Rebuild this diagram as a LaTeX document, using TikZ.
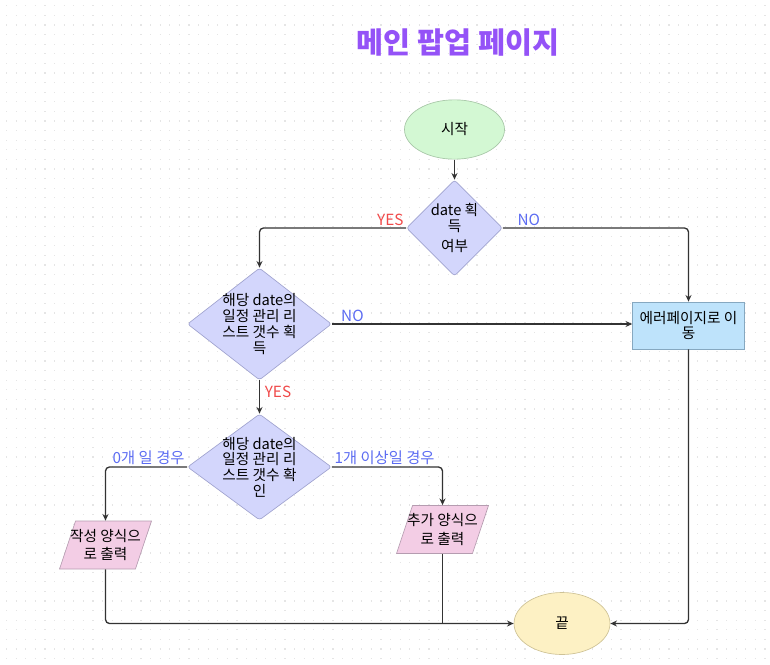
\documentclass[tikz,border=0pt]{standalone}
\usepackage{fontspec}
\setmainfont{Noto Sans CJK KR}
\usetikzlibrary{positioning, calc, shapes.geometric, arrows.meta}

\definecolor{lineCol}{HTML}{333333}
\definecolor{startFill}{HTML}{D3F8D3}
\definecolor{startDraw}{HTML}{A6C6A6}
\definecolor{decFill}{HTML}{D3D6FC}
\definecolor{decDraw}{HTML}{A0A3CF}
\definecolor{errFill}{HTML}{BEE3FB}
\definecolor{errDraw}{HTML}{86A8C0}
\definecolor{outFill}{HTML}{F3CDE5}
\definecolor{outDraw}{HTML}{B59CB0}
\definecolor{endFill}{HTML}{FDF1C4}
\definecolor{endDraw}{HTML}{CEC295}
\definecolor{yesCol}{HTML}{F04A4A}
\definecolor{noCol}{HTML}{5C6CF2}
\definecolor{titleCol}{HTML}{9452F7}

\tikzset{
    Arrow/.style = {
        draw=lineCol,
        line width=1pt,
        rounded corners=3pt,
        -{Stealth[length=5pt, width=4.5pt]}
    },
    Line/.style = {draw=lineCol, line width=1pt, rounded corners=3pt}
}
\tikzset{
Text/.style={
  font=\fontsize{11}{11.8}\selectfont,
  align=center,
  text=black,
  },
Inside/.style={Text, inner sep=0pt},
Terminal/.style={ellipse, draw=#1Draw, fill=#1Fill, line width=0.5pt, Text},
Decision/.style={diamond, draw=decDraw, fill=decFill, line width=0.5pt,
  rounded corners=2pt, inner sep=0pt},
Process/.style={rectangle, draw=errDraw, fill=errFill, line width=0.5pt,
  inner sep=1.5pt, Text},
IO/.style={trapezium, trapezium left angle=75, trapezium right angle=105,
  trapezium stretches=true, draw=outDraw, fill=outFill, line width=0.5pt,
  inner sep=2pt, minimum width=69pt, minimum height=36pt},
Lbl/.style={font=\fontsize{11.5}{13}\selectfont, inner sep=1.5pt},
YesLbl/.style={Lbl, text=yesCol},
NoLbl/.style={Lbl, text=noCol},
GridDots/.style={draw=gray!20, line width=0.9pt, dash pattern=on 0.9pt off 6.3pt},
Title/.style={font=\fontsize{22}{26}\selectfont\bfseries, text=titleCol}
}

\begin{document}
\begin{tikzpicture}[x=0.75pt, y=-0.75pt]
    \useasboundingbox (0,0) rectangle (770,664);
    % dotted background
    \foreach \j in {0,...,68}
        \draw[GridDots] (5.9, 5.7+9.6*\j) -- (770, 5.7+9.6*\j);

    % title
    \node[Title] (title) at (458,43) {메인 팝업 페이지};

    % start
    \node[Terminal=start, minimum width=75pt, minimum height=44.5pt] (start) at (454.5,129.5) {시작};
    \node[Decision, minimum width=72pt, minimum height=72pt,
        label={[Inside]center:{date 획\\득\\[3pt]여부}}] (d1) at (454.5,228) {};
    \draw[Arrow] (start.south) -- (d1.north);

    % error page
    \node[Process, minimum width=84pt, minimum height=35.25pt] (err) at (688.5,325.5) {에러페이지로 이\\동};
    \draw[Arrow] (d1.east) -| node[NoLbl, pos=0, anchor=south west, xshift=9pt] (no1) {NO} (err.north);

    % list count
    \node[Decision, minimum width=108pt, minimum height=84pt,
        label={[Inside]center:{해당 date의\\일정 관리 리\\스트 갯수 획\\득}}] (d2) at (259.5,324) {};
    \draw[Arrow] (d1.west) -| node[YesLbl, pos=0, anchor=south east] (yes1) {YES} (d2.north);
    \draw[Arrow] (d2.east) -- node[NoLbl, pos=0, anchor=south west, xshift=5pt] (no2) {NO} (d2.east -| err.west);

    \node[Decision, minimum width=108pt, minimum height=79.5pt,
        label={[Inside]center:{해당 date의\\일정 관리 리\\스트 갯수 확\\인}}] (d3) at (259.5,467) {};
    \draw[Arrow] (d2.south) -- node[YesLbl, pos=0, anchor=north west, xshift=2pt, yshift=-2pt] (yes2) {YES} (d3.north);

    % outputs
    \node[IO, label={[Inside]center:{작성 양식으\\[2pt]로 출력}}] (outL) at (105.5,545) {};
    \node[IO, label={[Inside]center:{추가 양식으\\[2pt]로 출력}}] (outR) at (442.5,529.5) {};
    \draw[Arrow] (d3.west) -| node[NoLbl, pos=0, anchor=south east] (zero) {0개 일 경우} (outL.north);
    \draw[Arrow] (d3.east) -| node[NoLbl, pos=0, anchor=south west] (many) {1개 이상일 경우} (outR.north);

    % end
    \node[Terminal=end, minimum width=72pt, minimum height=46.5pt] (end) at (562,623.5) {끝};
    \draw[Arrow] (outL.south) |- (end.west);
    \draw[Line] (outR.south) -- (outR.south |- end.west);
    \draw[Arrow] (err.south) |- (end.east);
\end{tikzpicture}
\end{document}
